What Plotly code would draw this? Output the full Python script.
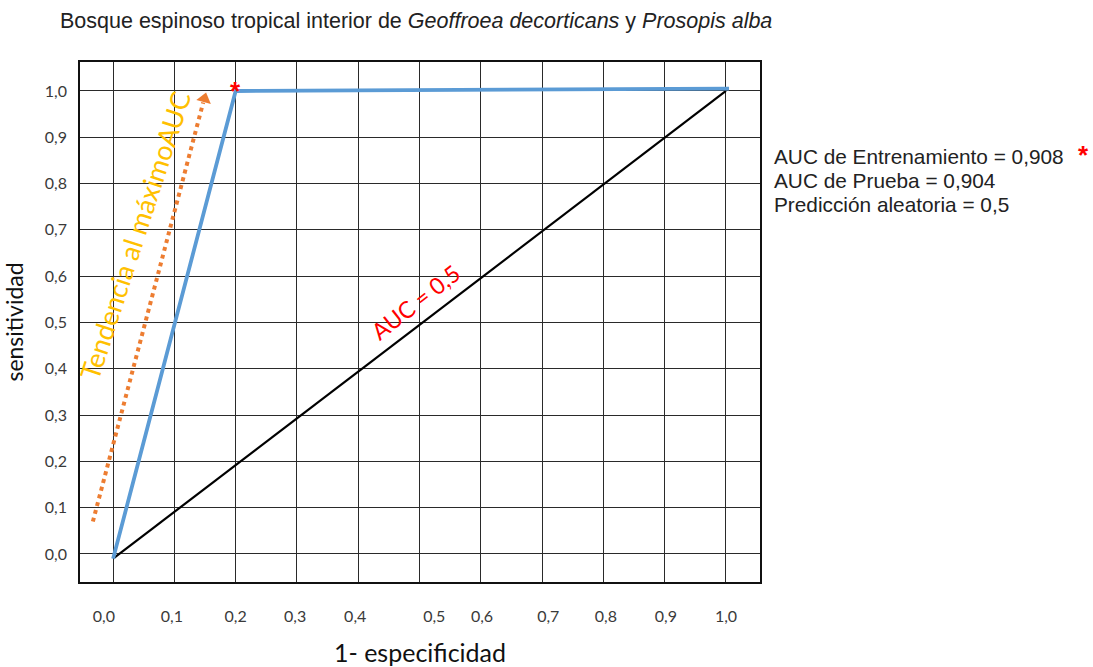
import plotly.graph_objects as go

# ---------------- data ----------------
x_tick_values = [0.0, 0.1, 0.2, 0.3, 0.4, 0.5, 0.6, 0.7, 0.8, 0.9, 1.0]
x_tick_labels = ["0,0", "0,1", "0,2", "0,3", "0,4", "0,5", "0,6", "0,7", "0,8", "0,9", "1,0"]
y_tick_values = [0.0, 0.1, 0.2, 0.3, 0.4, 0.5, 0.6, 0.7, 0.8, 0.9, 1.0]
y_tick_labels = ["0,0", "0,1", "0,2", "0,3", "0,4", "0,5", "0,6", "0,7", "0,8", "0,9", "1,0"]

roc_x = [0.0, 0.2, 1.005]
roc_y = [-0.01, 1.0, 1.005]

random_x = [0.0, 1.0]
random_y = [-0.01, 1.0]

trend_x = [-0.033, 0.147]
trend_y = [0.07, 0.975]

best_point_x = [0.2]
best_point_y = [1.0]

auc_texts = ["AUC de Entrenamiento = 0,908", "AUC de Prueba = 0,904", "Predicción aleatoria = 0,5"]

# ---------------- styling ----------------
# small horizontal shifts of the bottom labels as printed in the original
x_label_shift = [-0.015, -0.004, 0.0, -0.003, -0.005, 0.024, 0.002, 0.01, 0.004, 0.002, 0.0]

X_RANGE = [-0.054, 1.0555]
Y_RANGE = [-0.0605, 1.0626]
GRID = "#2a2a2a"
CAL = "Lato, 'Open Sans', sans-serif"
ARIAL = "'Liberation Sans', Arial, sans-serif"
TICKC = "#3a3a3a"

fig = go.Figure()

fig.add_trace(go.Scatter(x=random_x, y=random_y, mode="lines",
                         line=dict(color="#000000", width=2.2), hoverinfo="skip"))
fig.add_trace(go.Scatter(x=roc_x, y=roc_y, mode="lines", xaxis="x2",
                         line=dict(color="#5B9BD5", width=3.8), hoverinfo="skip"))
fig.add_trace(go.Scatter(x=trend_x, y=trend_y, mode="lines",
                         line=dict(color="#ED7D31", width=4, dash="dot"), hoverinfo="skip"))
# arrow head at the end of the trend line
fig.add_trace(go.Scatter(x=[trend_x[-1] + 0.002], y=[trend_y[-1] + 0.008], mode="markers",
                         marker=dict(symbol="triangle-up", size=13, angle=15, color="#ED7D31"),
                         hoverinfo="skip"))

annotations = []
# red asterisk at best point
annotations.append(dict(x=best_point_x[0], y=best_point_y[0], xref="x", yref="y",
                        text="<b>*</b>", showarrow=False, font=dict(color="#FF0000", size=26, family=ARIAL),
                        xanchor="center", yanchor="middle", yshift=0))
# yellow rotated text
annotations.append(dict(x=0.036, y=0.687, xref="x", yref="y", text="Tendencia al máximoAUC",
                        showarrow=False, textangle=-72,
                        font=dict(color="#FFC000", size=27, family=CAL)))
# red diagonal text
annotations.append(dict(x=0.493, y=0.545, xref="x", yref="y", text="AUC = 0,5",
                        showarrow=False, textangle=-38,
                        font=dict(color="#FF0000", size=23, family=CAL)))
# right side AUC text
plot_l, plot_r, plot_t, plot_b = 80, 760, 62, 582
for i, t in enumerate(auc_texts):
    ypix = 156 + 24 * i
    annotations.append(dict(x=(772 - plot_l) / (plot_r - plot_l), y=(plot_b - ypix) / (plot_b - plot_t),
                            xref="paper", yref="paper", text=t, showarrow=False,
                            xanchor="left", yanchor="middle",
                            font=dict(color="#222222", size=20.8, family=ARIAL)))
annotations.append(dict(x=(1076 - plot_l) / (plot_r - plot_l), y=(plot_b - 155) / (plot_b - plot_t),
                        xref="paper", yref="paper", text="<b>*</b>", showarrow=False,
                        xanchor="left", yanchor="middle",
                        font=dict(color="#FF0000", size=26, family=ARIAL)))

fig.update_layout(
    width=1093, height=667,
    margin=dict(l=plot_l, r=1093 - plot_r, t=plot_t, b=667 - plot_b, autoexpand=False),
    paper_bgcolor="white", plot_bgcolor="white",
    showlegend=False,
    title=dict(text="Bosque espinoso tropical interior de <i>Geoffroea decorticans</i> y <i>Prosopis alba</i>",
               x=60 / 1093, xanchor="left", xref="container",
               y=1 - 20 / 667, yanchor="middle", yref="container",
               font=dict(family=ARIAL, size=21.5, color="#222222")),
    xaxis=dict(range=X_RANGE, tickvals=x_tick_values, showticklabels=False, ticks="",
               automargin=False,
               showgrid=True, gridcolor=GRID, gridwidth=1.4, zeroline=False,
               showline=True, mirror=True, linecolor="#111111", linewidth=1.6,
               title=dict(text="1- especificidad", font=dict(family=CAL, size=25, color="#111111"),
                          standoff=66)),
    xaxis2=dict(range=X_RANGE, overlaying="x", anchor="y", side="bottom",
                automargin=False,
                tickvals=[v + s for v, s in zip(x_tick_values, x_label_shift)],
                ticktext=x_tick_labels, ticks="", showgrid=False, zeroline=False,
                ticklabelstandoff=23,
                tickfont=dict(family=CAL, size=16, color=TICKC)),
    yaxis=dict(range=Y_RANGE, tickvals=y_tick_values, ticktext=y_tick_labels, ticks="",
               automargin=False,
               showgrid=True, gridcolor=GRID, gridwidth=1.4, zeroline=False,
               showline=True, mirror=True, linecolor="#111111", linewidth=1.6,
               ticklabelstandoff=8,
               tickfont=dict(family=CAL, size=16, color=TICKC)),
    annotations=annotations,
)
fig.update_yaxes(title=dict(text="sensitividad", font=dict(family=CAL, size=23, color="#111111"),
                            standoff=15))

fig.write_html("out.html")
